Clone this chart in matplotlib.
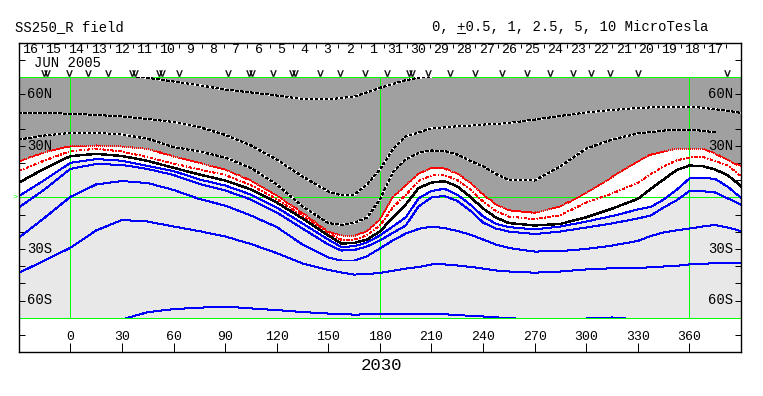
import numpy as np
import matplotlib
matplotlib.use("Agg")
import matplotlib.pyplot as plt
from matplotlib.patches import Rectangle
from matplotlib.lines import Line2D

nan = np.nan
# longitude grid (deg)
lon = [-30, -15, 0, 15, 30, 45, 60, 75, 90, 105, 120, 135, 150, 157.5, 165, 172.5, 180, 187.5, 195,
       202.5, 210, 217.5, 225, 232.5, 240, 247.5, 255, 270, 285, 300, 315, 330, 337.5, 345, 352.5,
       360, 367.5, 375, 382.5, 390]

# contour latitudes (MicroTesla levels)
lat_p10 = [nan, nan, nan, nan, 71.5, 69.7, 67.6, 65.4, 62.9, 61.2, 59.4, 57.4, 57.1, 58.0, 58.8, 61.2,
           63.9, 66.1, 68.4, 69.7, 70.5, nan, nan, nan, nan, nan, nan, nan, nan, nan, nan, nan, nan,
           nan, nan, nan, nan, nan, nan, nan]
lat_p5 = [49.3, 49.2, 48.8, 48.1, 47.2, 45.7, 44.0, 41.0, 36.5, 30.3, 22.1, 12.2, 3.5, 1.3, 1.5, 7.6,
          16.3, 28.0, 35.5, 37.9, 40.3, 40.8, 41.5, 41.9, 42.5, 42.8, 43.4, 45.4, 47.5, 49.5, 51.0, 52.1,
          52.5, 53.0, 53.0, 52.8, 52.3, 51.4, 50.5, 49.3]
lat_p2_5 = [33.8, 36.1, 37.6, 37.7, 36.7, 34.2, 29.4, 26.8, 23.3, 17.2, 7.6, -5.2, -14.9, -15.9, -14.8,
            -11.7, -1.2, 14.6, 22.1, 26.0, 27.4, 27.1, 25.0, 21.3, 18.2, 13.7, 10.2, 9.9, 18.2, 28.5,
            33.8, 37.3, 38.1, 39.0, 39.4, 39.6, 38.9, 37.9, nan, nan]
lat_p1 = [21.0, 26.4, 29.9, 30.3, 29.7, 28.3, 23.9, 20.1, 16.3, 9.8, 1.2, -9.0, -20.1, -22.1, -22.4,
          -19.6, -12.8, 0.3, 7.0, 13.9, 17.1, 16.9, 13.9, 8.7, 1.7, -4.0, -7.5, -8.9, -5.2, 2.6, 11.9,
          21.0, 25.0, 26.8, 28.5, 28.5, 28.5, 25.6, 21.7, 18.1]
lat_p0_5 = [15.5, 21.6, 27.0, 28.4, 26.8, 23.5, 19.8, 16.3, 13.1, 7.2, -0.9, -10.6, -21.1, -24.5, -24.5,
            -22.1, -16.3, -5.8, 1.5, 9.7, 12.9, 13.2, 10.2, 4.7, -2.3, -7.9, -11.1, -12.6, -10.3, -2.9,
            2.3, 8.5, 13.6, 18.1, 21.6, 23.3, 23.6, 21.4, 18.6, 12.3]
lat_0 = [8.6, 16.9, 24.1, 25.4, 24.2, 21.3, 17.3, 13.4, 9.9, 4.7, -2.9, -12.2, -22.1, -26.8, -26.5,
         -24.5, -19.8, -11.7, -4.1, 5.5, 8.7, 9.5, 6.5, 0.4, -6.4, -11.7, -14.9, -16.3, -15.4, -11.5,
         -6.5, -0.8, 5.0, 10.5, 16.0, 18.6, 18.3, 16.3, 12.8, 6.6]
lat_m0_5 = [0.8, 10.2, 20.2, 22.4, 21.4, 18.4, 15.4, 10.5, 7.0, 1.7, -5.8, -15.1, -24.5, -28.8, -28.4,
            -26.2, -22.1, -16.9, -11.6, -0.5, 3.8, 5.1, 1.6, -4.1, -11.0, -15.3, -17.2, -18.6, -16.9,
            -14.0, -10.8, -7.0, -5.5, -1.2, 4.4, 11.1, 11.5, 10.8, 6.1, -0.2]
lat_m1 = [-5.8, 4.7, 16.7, 19.5, 19.0, 16.6, 13.1, 7.9, 4.1, -1.2, -8.7, -18.1, -27.4, -30.9, -30.6,
          -28.5, -25.0, -20.6, -16.3, -5.2, 0.0, 0.9, -2.0, -7.6, -14.6, -18.1, -19.8, -21.3, -19.8,
          -17.5, -15.1, -12.2, -10.5, -5.8, -1.7, 3.8, 3.7, 2.9, -0.6, -4.1]
lat_m2_5 = [-23.5, -11.8, 0.4, 7.6, 9.6, 8.4, 4.4, -0.9, -4.7, -10.5, -17.2, -27.4, -35.0, -36.7, -36.7,
            -34.2, -29.7, -25.0, -21.0, -18.3, -16.9, -17.8, -19.5, -21.6, -24.5, -27.4, -29.4, -31.5,
            -31.2, -30.0, -28.0, -25.3, -22.4, -20.4, -19.1, -18.1, -16.9, -16.0, -17.5, -19.6]
lat_m5 = [-43.9, -36.7, -29.3, -19.2, -13.1, -14.0, -16.9, -19.6, -22.7, -27.1, -32.4, -38.4, -42.2,
          -43.7, -44.9, -44.6, -43.9, -42.7, -41.4, -40.5, -39.0, -39.0, -39.6, -40.4, -41.4, -42.5,
          -43.1, -43.8, -43.1, -41.9, -41.2, -41.1, -40.6, -40.2, -39.8, -39.0, -38.7, -38.2, -38.2, -38.4]
lat_m10 = [-75, -75, -74, -72, -71, -66.8, -65.0, -64.2, -63.5, -64.6, -65.6, -66.7, -67.6, -68.0,
           -68.2, -68.1, -68.0, -67.8, -67.7, -67.7, -67.7, -68.0, -68.5, -68.9, -69.3, -69.8, -70.3,
           -71, -71, -70.5, -69.9, -71, -71.5, -72, -72, -72, -72, -72, -72, -72]

# orbit pass markers (longitude)
pass_lon = [-15.5, -13.8, -0.6, 10.5, 22.1, 35.8, 37.5, 51.5, 53.2, 63.4, 91.8, 103.8, 105.5, 118.0,
            128.8, 130.5, 145.3, 157.0, 171.5, 184.3, 196.8, 198.5, 208.1, 220.9, 235.4, 251.1, 265.7,
            279.0, 292.4, 302.9, 313.9, 330.2, 381.9]

day_labels = ["16", "15", "14", "13", "12", "11", "10", "9", "8", "7", "6", "5", "4", "3", "2", "1",
              "31", "30", "29", "28", "27", "26", "25", "24", "23", "22", "21", "20", "19", "18", "17"]
xtick_vals = [0, 30, 60, 90, 120, 150, 180, 210, 240, 270, 300, 330, 360]
ylab_vals = [60, 30, -30, -60]
ylab_text = ["60N", "30N", "30S", "60S"]

MONO = "Liberation Mono"
W, H = 763, 396
fig = plt.figure(figsize=(W / 100, H / 100), dpi=100)
L, R, T, B = 18.8, 741.0, 43.0, 352.0
ax = fig.add_axes([L / W, 1 - B / H, (R - L) / W, (B - T) / H])
ax.set_xlim(-30, 390)
ax.set_ylim(-90, 90)

DARK = "#a0a0a0"
LIGHT = "#e8e8e8"
GREEN = "#00ff00"
px = 0.72

# fills
ax.fill_between([-30, 390], -70, 70, color=LIGHT, lw=0, zorder=1)
ax.fill_between(lon, lat_m0_5, lat_p1, color="white", lw=0, zorder=1.1)
ax.fill_between(lon, lat_p1, 70, color=DARK, lw=0, zorder=1.2)

# green grid lines
ax.hlines([-70, 0, 70], -30, 390, color=GREEN, lw=px, zorder=2)
ax.vlines([0, 180, 360], -70, 70, color=GREEN, lw=px, zorder=2)

clip = Rectangle((-30, -70), 420, 140, transform=ax.transData, facecolor="none", edgecolor="none")
lines = []
for arr in (lat_p10, lat_p5, lat_p2_5):
    lines += ax.plot(lon, arr, color="white", lw=px, zorder=3, antialiased=False)
    lines += ax.plot(lon, arr, color="black", lw=px, dashes=(2.8, 2.8), zorder=3.1, antialiased=False)
lines += ax.plot(lon, lat_p1, color="red", lw=px, dashes=(1.0, 2.0), zorder=3, antialiased=False)
lines += ax.plot(lon, lat_p0_5, color="red", lw=px, dashes=(2.8, 2.8, 1.0, 2.8), zorder=3, antialiased=False)
lines += ax.plot(lon, lat_0, color="black", lw=1.0, zorder=3, antialiased=False)
for arr in (lat_m0_5, lat_m1, lat_m2_5, lat_m5, lat_m10):
    lines += ax.plot(lon, arr, color="blue", lw=px, zorder=3, antialiased=False)
for ln in lines:
    ln.set_clip_path(clip)

# axes frame & ticks
for s in ax.spines.values():
    s.set_linewidth(1.0)
    s.set_zorder(5)
ax.set_yticks(np.arange(-80, 81, 10))
ax.set_xticks(xtick_vals)
ax.tick_params(axis="y", direction="in", length=4.3, width=px, left=True, right=True,
               labelleft=False, labelright=False)
ax.tick_params(axis="x", direction="in", length=6.5, width=px, bottom=True, top=False,
               labelbottom=False)

for v in xtick_vals:
    ax.text(v, -81.3, str(v), ha="center", va="center", fontsize=9.5, family=MONO, zorder=6)
for v, t in zip(ylab_vals, ylab_text):
    ax.text(-25.2, v, t, ha="left", va="center", fontsize=10, family=MONO, zorder=6)
    ax.text(385.6, v, t, ha="right", va="center", fontsize=10, family=MONO, zorder=6)
ax.text(-30.6, 0, ">", ha="right", va="center", fontsize=6, color=GREEN, family=MONO, clip_on=False)

# date header
day_step = 13.27
for i, d in enumerate(day_labels):
    ax.text(-23.25 + day_step * i, 86.0, d, ha="center", va="center", fontsize=9.5, family=MONO)
sep = [-23.25 + day_step * (i + 0.5) for i in range(len(day_labels))]
ax.vlines(sep, 86.8, 89.5, color="black", lw=px)
ax.text(-21.3, 78.6, "JUN 2005", ha="left", va="center", fontsize=10, family=MONO)
ax.plot(pass_lon, [72.4] * len(pass_lon), ls="none", marker="$\\mathsf{v}$", ms=4.5,
        color="black", mew=0.2, zorder=6)

# titles
fig.text(15 / W, 1 - 31.5 / H, "SS250_R field", ha="left", va="baseline", fontsize=10, family=MONO)
fig.text(431.7 / W, 1 - 31.5 / H, "0, +0.5, 1, 2.5, 5, 10 MicroTesla", ha="left", va="baseline",
         fontsize=10, family=MONO)
fig.add_artist(Line2D([457.0 / W, 464.5 / W], [1 - 33.2 / H, 1 - 33.2 / H], color="black", lw=px,
                      transform=fig.transFigure))
fig.text(381 / W, 1 - 365.5 / H, "2030", ha="center", va="center", fontsize=12.5, family=MONO)

fig.savefig("out.png", dpi=100)
